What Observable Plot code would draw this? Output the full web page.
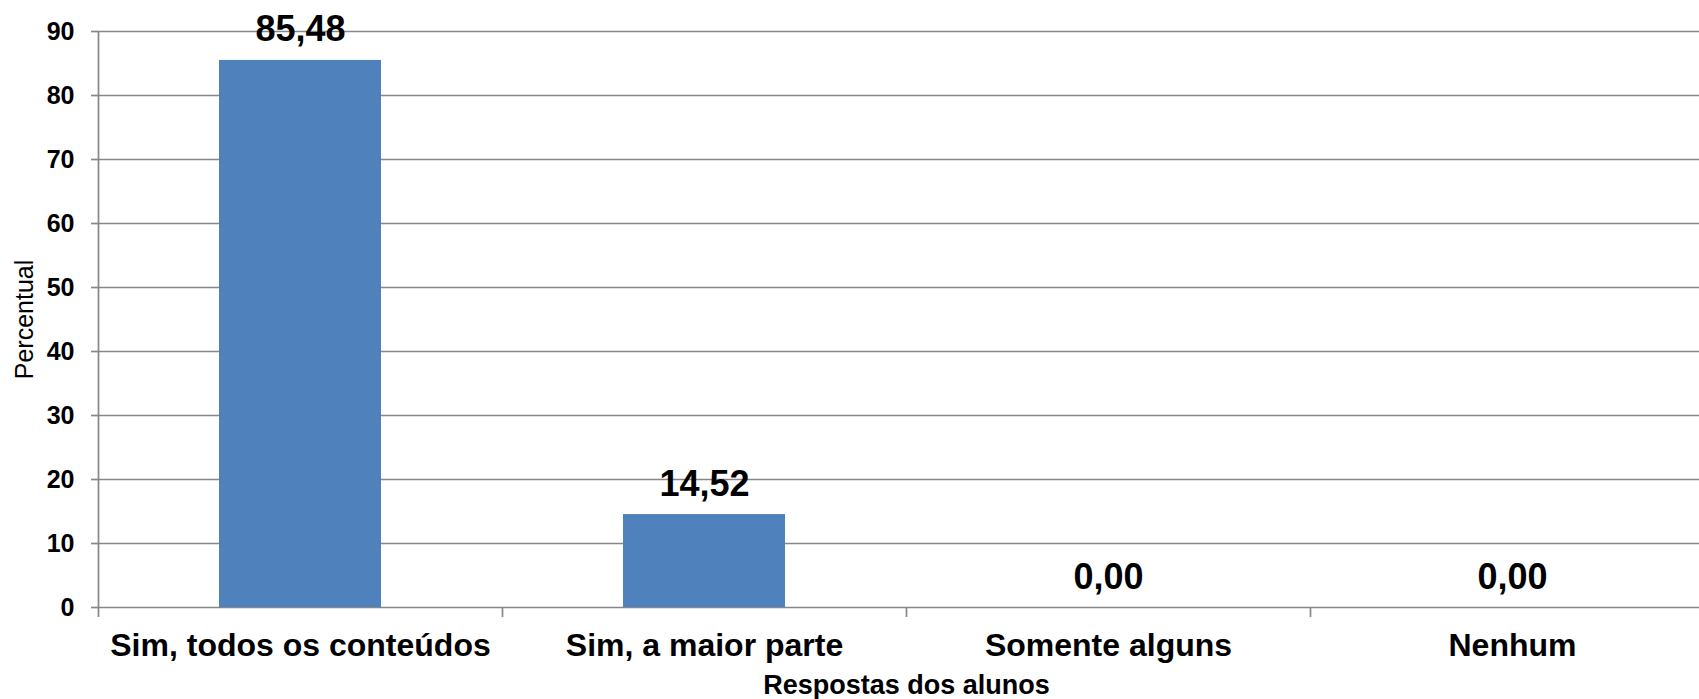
<!DOCTYPE html>
<html><head><meta charset="utf-8">
<script src="https://cdn.jsdelivr.net/npm/d3@7"></script>
<script src="https://cdn.jsdelivr.net/npm/@observablehq/plot@0.6"></script>
<style>html,body{margin:0;padding:0;overflow:hidden;background:#fff}</style>
</head><body><div id="chart"></div>
<script>
const categories = ["Sim, todos os conteúdos", "Sim, a maior parte", "Somente alguns", "Nenhum"];
const values = [85.48, 14.52, 0.00, 0.00];
const yTicks = [0, 10, 20, 30, 40, 50, 60, 70, 80, 90];
const xTitle = "Respostas dos alunos";
const yTitle = "Percentual";

const table = categories.map((c, i) => ({category: c, start: i, end: i + 1, mid: i + 0.5, value: values[i]}));
const boundaries = d3.range(categories.length + 1);
const mids = table.map(d => d.mid);
const font = "'Liberation Sans', Arial, Helvetica, sans-serif";
const gray = "#878787";
const fmt = v => v.toFixed(2).replace(".", ",");

const chart = Plot.plot({
  width: 1699, height: 699,
  marginTop: 31, marginBottom: 92, marginLeft: 98, marginRight: -15,
  style: {fontFamily: font, background: "white", color: "black", overflow: "visible"},
  x: {type: "linear", domain: [0, categories.length], axis: null},
  y: {domain: [0, 90], axis: null},
  marks: [
    Plot.ruleY(yTicks, {stroke: gray, strokeWidth: 1.7}),
    Plot.ruleX([0], {stroke: gray, strokeWidth: 1.7}),
    Plot.rectY(table, {x1: "start", x2: "end", y: "value", insetLeft: 121, insetRight: 121, fill: "#4f81bd"}),
    Plot.axisY(yTicks, {anchor: "left", tickSize: 7, tickPadding: 17, stroke: gray, strokeWidth: 1.7,
      fill: "black", fontSize: 25, fontWeight: "bold", label: null}),
    Plot.axisX(boundaries, {anchor: "bottom", tickSize: 10, tickFormat: () => "", stroke: gray, strokeWidth: 1.7, label: null}),
    Plot.axisX(mids, {anchor: "bottom", tickSize: 0, tickPadding: 26, tickFormat: d => categories[Math.floor(d)],
      fill: "black", fontSize: 32, fontWeight: "bold", label: null}),
    Plot.text(table, {x: "mid", y: "value", text: d => fmt(d.value), lineAnchor: "bottom", dy: -19,
      fontSize: 36, fontWeight: "bold", fill: "black"}),
    Plot.text([xTitle], {frameAnchor: "bottom", lineAnchor: "bottom", dy: 86, fontSize: 27, fontWeight: "bold", fill: "black"}),
    Plot.text([yTitle], {frameAnchor: "left", textAnchor: "middle", rotate: -90, lineAnchor: "bottom", dx: -66, fontSize: 25, fill: "black"})
  ]
});
document.getElementById("chart").appendChild(chart);
</script>
</body></html>
